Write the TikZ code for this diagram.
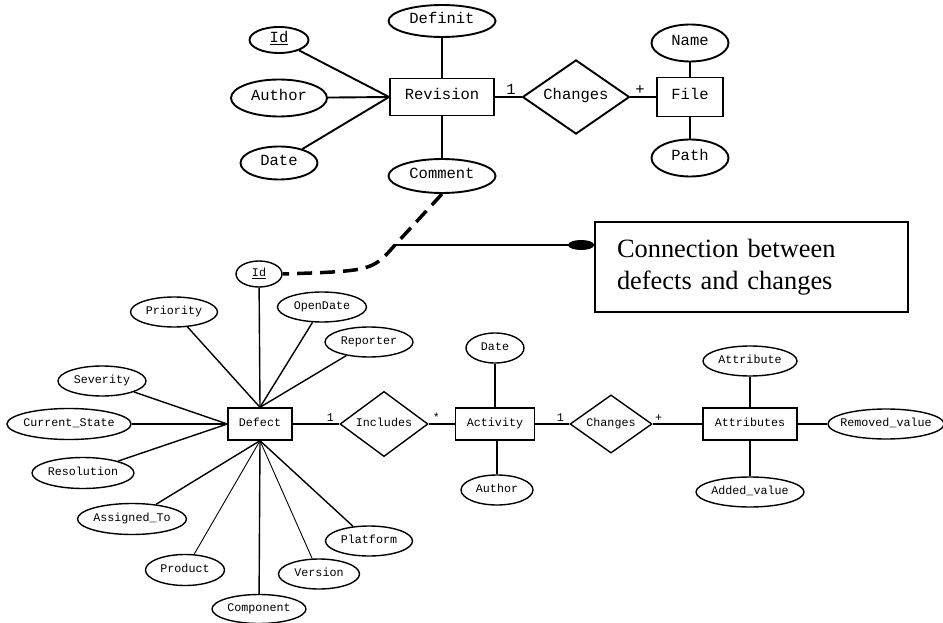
\documentclass[tikz,border=0pt]{standalone}
\usepackage{fontspec}
\setmainfont{Liberation Serif}
\setmonofont{Liberation Mono}
\usetikzlibrary{shapes.geometric,arrows.meta}
\begin{document}
\begin{tikzpicture}[x=1pt,y=-1pt]
\tikzstyle{attr}=[ellipse,draw,inner xsep=-60pt,inner ysep=-20pt,text height=.7em,text depth=.2em]
\tikzstyle{ent}=[rectangle,draw,inner sep=0pt,text height=.7em,text depth=.2em]
\tikzstyle{rel}=[diamond,draw,inner sep=0pt,text height=.7em,text depth=.2em]
\tikzstyle{card}=[inner sep=1.5pt,above]
\tikzstyle{upper}=[font=\fontsize{15.5}{18}\selectfont\ttfamily,line width=1.9pt]
\tikzstyle{lower}=[font=\fontsize{11.7}{14}\selectfont\ttfamily,line width=1.4pt]
\useasboundingbox (0,0) rectangle (943,623);

% revisions and files
\begin{scope}[upper]
\node[ent,minimum width=104pt,minimum height=37pt] (rev) at (442,97) {Revision};
\node[attr,minimum width=59pt,minimum height=26pt] (tid) at (279,40) {\underline{Id}};
\node[attr,minimum width=96pt,minimum height=37pt] (tau) at (279,98) {Author};
\node[attr,minimum width=77pt,minimum height=33pt] (tdt) at (279,163) {Date};
\node[attr,minimum width=107pt,minimum height=32pt] (dfn) at (442,21) {Definit};
\node[attr,minimum width=107pt,minimum height=34pt] (cmt) at (442,176) {Comment};
\node[rel,minimum width=107pt,minimum height=65pt] (chg) at (576,97) {Changes};
\node[ent,minimum width=66pt,minimum height=39pt] (file) at (690,97) {File};
\node[attr,minimum width=77pt,minimum height=37pt] (name) at (690,43) {Name};
\node[attr,minimum width=77pt,minimum height=37pt] (path) at (690,158) {Path};
\draw (tid)--(rev.west);
\draw (tau)--(rev.west);
\draw (tdt)--(rev.west);
\draw (dfn)--(rev);
\draw (cmt)--(rev);
\draw (rev)--(chg) node[card,pos=0.6] (c1) {1};
\draw (chg)--(file) node[card,pos=0.37] (c2) {+};
\draw (name)--(file);
\draw (path)--(file);
\end{scope}

% defects and activities
\begin{scope}[lower]
\node[ent,minimum width=64pt,minimum height=32pt] (dfc) at (260,424) {Defect};
\node[attr,minimum width=46pt,minimum height=26pt] (did) at (259,274) {\underline{Id}};
\node[attr,minimum width=87pt,minimum height=30pt] (pri) at (174,312) {Priority};
\node[attr,minimum width=89pt,minimum height=30pt] (odt) at (322,307) {OpenDate};
\node[attr,minimum width=88pt,minimum height=30pt] (rep) at (369,342) {Reporter};
\node[attr,minimum width=88pt,minimum height=30pt] (sev) at (102,381) {Severity};
\node[attr,minimum width=124pt,minimum height=31pt] (cst) at (69,424) {Current\_State};
\node[attr,minimum width=102pt,minimum height=31pt] (res) at (83,473) {Resolution};
\node[attr,minimum width=109pt,minimum height=31pt] (asg) at (132,519) {Assigned\_To};
\node[attr,minimum width=79pt,minimum height=31pt] (prd) at (185,570) {Product};
\node[attr,minimum width=94pt,minimum height=29pt] (cmp) at (259,609) {Component};
\node[attr,minimum width=81pt,minimum height=30pt] (ver) at (319,574) {Version};
\node[attr,minimum width=87pt,minimum height=30pt] (plf) at (369,541) {Platform};
\node[rel,minimum width=88pt,minimum height=59pt] (inc) at (384,424) {Includes};
\node[ent,minimum width=79pt,minimum height=32pt] (act) at (495,424) {Activity};
\node[attr,minimum width=58pt,minimum height=30pt] (adt) at (495,348) {Date};
\node[attr,minimum width=72pt,minimum height=30pt] (aau) at (497,490) {Author};
\node[rel,minimum width=82pt,minimum height=55pt] (achg) at (611,424) {Changes};
\node[ent,minimum width=94pt,minimum height=32pt] (atts) at (750,424) {Attributes};
\node[attr,minimum width=94pt,minimum height=30pt] (att) at (750,361) {Attribute};
\node[attr,minimum width=108pt,minimum height=30pt] (add) at (750,492) {Added\_value};
\node[attr,minimum width=116pt,minimum height=30pt] (rmv) at (886,424) {Removed\_value};
\draw (did)--(dfc.north);
\draw (pri)--(dfc.north);
\draw (odt)--(dfc.north);
\draw (rep)--(dfc.north);
\draw (sev)--(dfc.west);
\draw (cst)--(dfc.west);
\draw (res)--(dfc.west);
\draw (asg)--(dfc.south);
\draw[line width=0.9pt] (prd)--(dfc.south);
\draw (cmp)--(dfc.south);
\draw[line width=0.9pt] (ver)--(dfc.south);
\draw (plf)--(dfc.south);
\draw (dfc)--(inc) node[card,pos=0.81] (c3) {1};
\draw (inc)--(act) node[card,pos=0.29] (c4) {*};
\draw (adt)--(act);
\draw (aau)--(aau|-act.south);
\draw (act)--(achg) node[card,pos=0.74] (c5) {1};
\draw (achg)--(atts) node[card,pos=0.12] (c6) {+};
\draw (att)--(atts);
\draw (add)--(atts);
\draw (rmv)--(atts);
\end{scope}

% note on the link
\node[draw,line width=1.8pt,minimum width=313pt,minimum height=90pt,inner xsep=22pt,
  text width=269pt,align=left,font=\fontsize{26.4}{32}\selectfont] (note) at (751.5,267)
  {Connection between\\defects and changes};
\coordinate (bend) at (395,245);
\draw[line width=3.5pt,dash pattern=on 15pt off 8pt] (cmt.south)--(bend) .. controls (372,271) .. (did.east);
\draw[line width=1.5pt,-{Ellipse[length=26pt,width=10pt]}] (bend)--(bend-|note.west);
\end{tikzpicture}
\end{document}
